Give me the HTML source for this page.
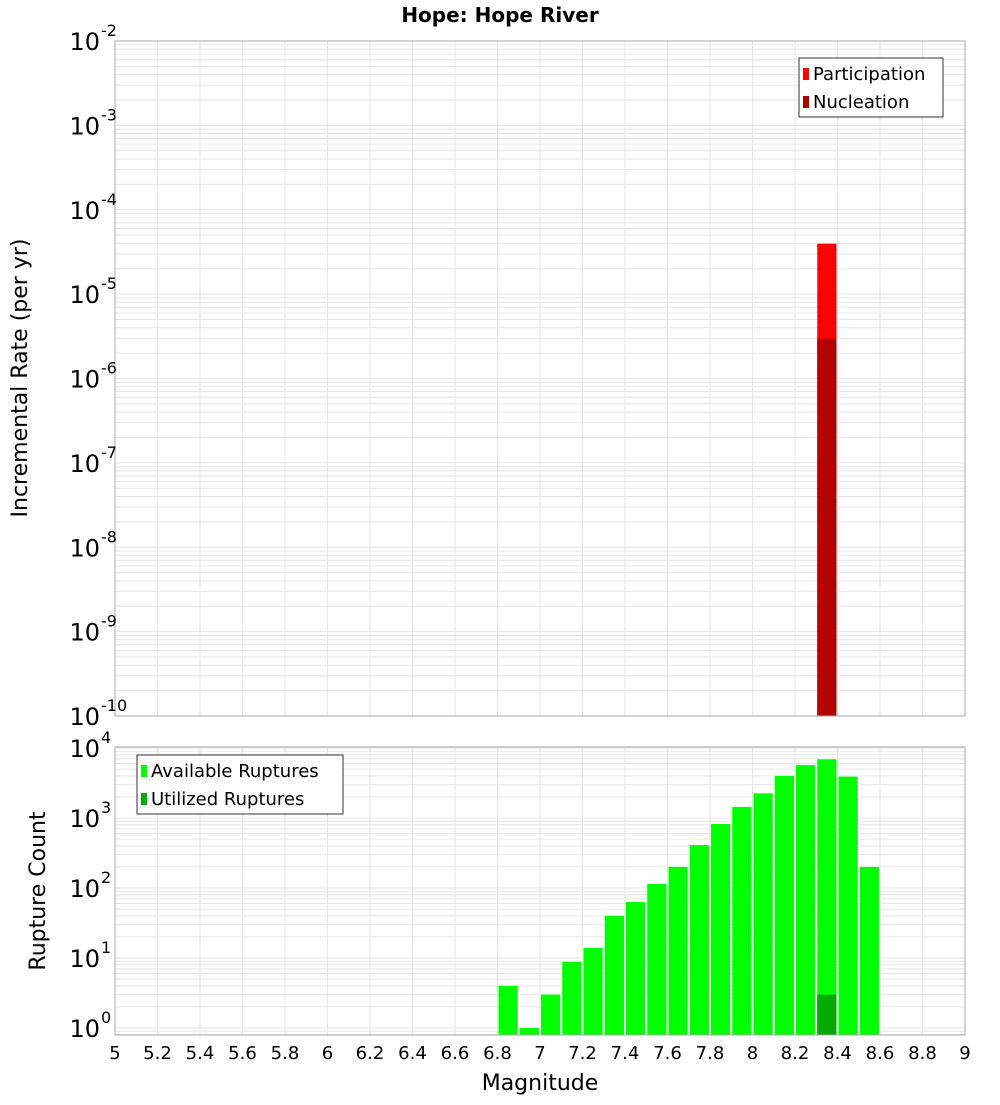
<!DOCTYPE html>
<html><head><meta charset="utf-8"><style>
body{margin:0;background:#fff;}
svg text{font-family:"DejaVu Sans","Liberation Sans",sans-serif;fill:#000;}
</style></head><body>
<svg id="c" width="1000" height="1100" xmlns="http://www.w3.org/2000/svg">
<text x="500" y="22" text-anchor="middle" font-size="20" font-weight="bold">Hope: Hope River</text>
<text transform="translate(27,378) rotate(-90)" text-anchor="middle" font-size="22">Incremental Rate (per yr)</text>
<text transform="translate(45,891) rotate(-90)" text-anchor="middle" font-size="22">Rupture Count</text>
<text x="540" y="1090" text-anchor="middle" font-size="22">Magnitude</text>
<g id="top"></g><g id="bot"></g>
</svg>
<script>
const partMag=[8.35];
const partRate=[3.96e-5];
const nuclMag=[8.35];
const nuclRate=[2.97e-6];
const availMag=[6.85,6.95,7.05,7.15,7.25,7.35,7.45,7.55,7.65,7.75,7.85,7.95,8.05,8.15,8.25,8.35,8.45,8.55];
const availCount=[4,1,3,8.8,13.9,40,63,114,200,410,820,1440,2250,4000,5700,6900,3900,200];
const utilMag=[8.35];
const utilCount=[3];
const xTicks=[5,5.2,5.4,5.6,5.8,6,6.2,6.4,6.6,6.8,7,7.2,7.4,7.6,7.8,8,8.2,8.4,8.6,8.8,9];
const topExp=[-2,-3,-4,-5,-6,-7,-8,-9,-10];
const botExp=[0,1,2,3,4];

const NS="http://www.w3.org/2000/svg";
const X0=115,X1=965;
const xs=m=>X0+(m-5)/4*(X1-X0);
const TT=41,TB=716;
const yTop=v=>TT+(-2-Math.log10(v))*(TB-TT)/8;
const BT=747,BB=1035;
const yBot=v=>1028-Math.log10(v)*70;
function el(p,t,a){const e=document.createElementNS(NS,t);for(const k in a)e.setAttribute(k,a[k]);p.appendChild(e);return e;}
function grid(g,yf,lo,hi,t0,b0){
  xTicks.forEach(t=>{const l=el(g,'line',{x1:xs(t),x2:xs(t),y1:t0,y2:b0,stroke:'#e6e6e6'});
  
  });
  for(let e=lo;e<hi;e++)for(let k=1;k<10;k++){const y=yf(k*Math.pow(10,e));if(y<t0||y>b0)continue;
    const l=el(g,'line',{x1:X0,x2:X1,y1:y,y2:y,stroke:'#e6e6e6'});
    
    }
}
function bar(g,m,v,yf,base,col,name){
  const x=xs(m-0.05)+1,w=xs(m+0.05)-xs(m-0.05)-2,y=yf(v);
  const r=el(g,'rect',{x:x,y:y,width:w,height:base-y,fill:col});
  
  
}
function ylabels(g,exps,yf){
  exps.forEach(e=>{const y=yf(Math.pow(10,e));
    const t=el(g,'text',{x:100,y:y+9,'text-anchor':'end','font-size':24});
    
    
    t.textContent='10';
    const s=el(g,'text',{x:101,y:y-5,'font-size':16});
    
    
    s.textContent=String(e);});
}
function legend(g,x,y,w,items){
  const r=el(g,'rect',{x:x,y:y,width:w,height:59,fill:'#fff',stroke:'#333'});
  
  
  items.forEach((it,i)=>{
    const s=el(g,'rect',{x:x+4,y:y+10+i*28,width:6,height:12,fill:it[1]});
    
    
    const t=el(g,'text',{x:x+14,y:y+22+i*28,'font-size':18});
    
    
    t.textContent=it[0];});
}
const gTop=document.getElementById('top'),gBot=document.getElementById('bot');
grid(gTop,yTop,-10,-2,TT,TB);
partMag.forEach((m,i)=>bar(gTop,m,partRate[i],yTop,TB,'#ff0000','participation-bar'));
nuclMag.forEach((m,i)=>bar(gTop,m,nuclRate[i],yTop,TB,'#b30000','nucleation-bar'));
let f=el(gTop,'rect',{x:X0,y:TT,width:X1-X0,height:TB-TT,fill:'none',stroke:'#aaa'});


ylabels(gTop,topExp,yTop);
legend(gTop,799,58,144,[['Participation','#ff0000'],['Nucleation','#b30000']]);

grid(gBot,yBot,-1,5,BT,BB);
availMag.forEach((m,i)=>bar(gBot,m,availCount[i],yBot,BB,'#00ff00','available-bar'));
utilMag.forEach((m,i)=>bar(gBot,m,utilCount[i],yBot,BB,'#00aa00','utilized-bar'));
f=el(gBot,'rect',{x:X0,y:BT,width:X1-X0,height:BB-BT,fill:'none',stroke:'#aaa'});


ylabels(gBot,botExp,yBot);
legend(gBot,137,755,206,[['Available Ruptures','#00ff00'],['Utilized Ruptures','#00aa00']]);
xTicks.forEach(t=>{const tx=el(gBot,'text',{x:xs(t),y:1059,'text-anchor':'middle','font-size':18});
  
  
  tx.textContent=String(t);});
</script>
</body></html>
